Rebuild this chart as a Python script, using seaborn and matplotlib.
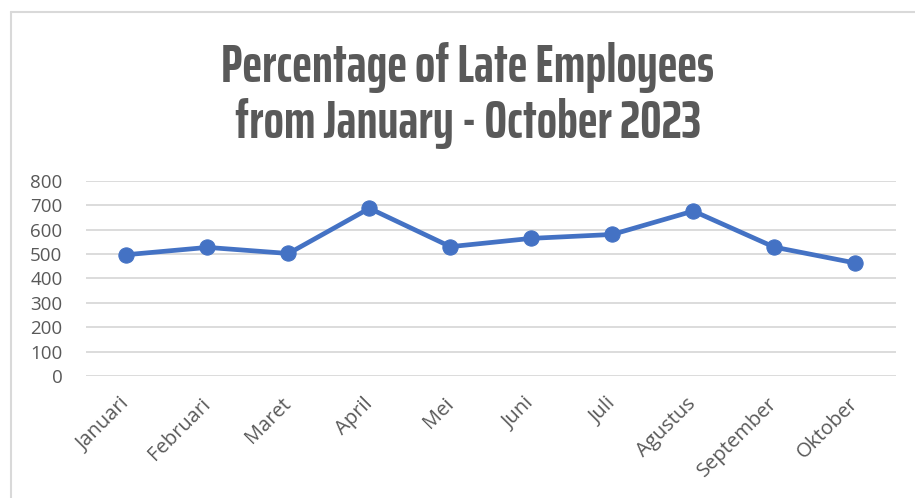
import pandas as pd
import seaborn as sns
import matplotlib.pyplot as plt
from matplotlib.lines import Line2D

# monthly counts
months = ['Januari', 'Februari', 'Maret', 'April', 'Mei', 'Juni',
          'Juli', 'Agustus', 'September', 'Oktober']
late = [497, 527, 502, 687, 530, 564, 580, 676, 528, 463]
yticks = [0, 100, 200, 300, 400, 500, 600, 700, 800]

df = pd.DataFrame({'month': months, 'late': late})

sns.set_style('white')
plt.rcParams['font.family'] = ['Open Sans', 'DejaVu Sans']

fig = plt.figure(figsize=(9.15, 4.98), dpi=100)
ax = fig.add_axes([0.094, 0.245, 0.885, 0.392])

blue = '#4472C4'
gray = '#595959'

sns.lineplot(data=df, x='month', y='late', sort=False, ax=ax,
             color=blue, linewidth=3.4, marker='o', markersize=11,
             markeredgecolor=blue)

ax.set_ylim(0, 800)
ax.set_xlim(-0.5, len(months) - 0.5)
ax.set_yticks(yticks)
ax.set_yticklabels([str(v) for v in yticks], fontsize=13.5, color=gray)
ax.set_xticks(range(len(months)))
ax.set_xticklabels(months, rotation=45, ha='right', va='center',
                   rotation_mode='anchor', fontsize=14.5, color=gray)
ax.tick_params(axis='x', length=0, pad=18)
ax.tick_params(axis='y', length=0, pad=17)
ax.set_xlabel('')
ax.set_ylabel('')
ax.grid(axis='y', color='#d9d9d9', linewidth=1.3)
ax.set_axisbelow(True)
for s in ax.spines.values():
    s.set_visible(False)

fig.text(0.511, 0.808, 'Percentage of Late Employees\nfrom January - October 2023',
         ha='center', va='center', fontsize=38.5, fontweight='bold',
         color=gray, linespacing=1.12,
         family=['Saira ExtraCondensed', 'Saira Extra Condensed',
                 'Saira Condensed', 'DejaVu Sans'])

# chart border (only left and top visible in the crop)
fig.add_artist(Line2D([0.0125, 0.0125], [0, 0.976], color='#d9d9d9', lw=1.5,
                      transform=fig.transFigure))
fig.add_artist(Line2D([0.0125, 1], [0.976, 0.976], color='#d9d9d9', lw=1.5,
                      transform=fig.transFigure))

fig.savefig('out.png', dpi=100)
